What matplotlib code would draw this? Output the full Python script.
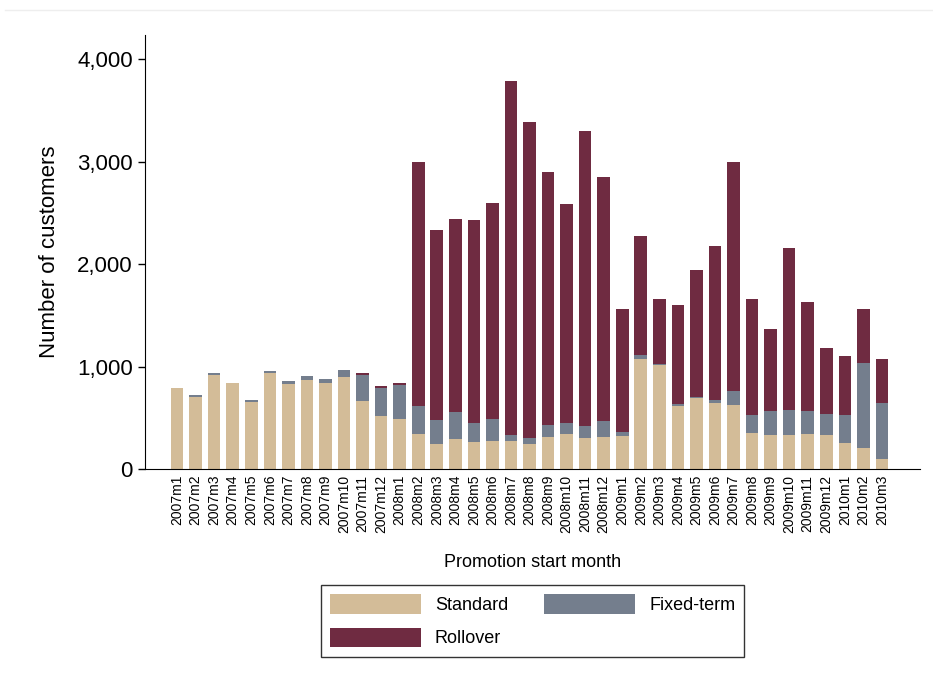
import matplotlib
matplotlib.use("Agg")
import matplotlib.pyplot as plt
from matplotlib.ticker import FuncFormatter
from matplotlib.lines import Line2D

plt.rcParams['font.family'] = ['Liberation Sans', 'DejaVu Sans']

# months on the x axis
months = ['2007m1', '2007m2', '2007m3', '2007m4', '2007m5', '2007m6', '2007m7', '2007m8',
          '2007m9', '2007m10', '2007m11', '2007m12', '2008m1', '2008m2', '2008m3', '2008m4',
          '2008m5', '2008m6', '2008m7', '2008m8', '2008m9', '2008m10', '2008m11', '2008m12',
          '2009m1', '2009m2', '2009m3', '2009m4', '2009m5', '2009m6', '2009m7', '2009m8',
          '2009m9', '2009m10', '2009m11', '2009m12', '2010m1', '2010m2', '2010m3']

# customers per product (stacked: standard, fixed-term, rollover)
standard = [790, 705, 920, 842, 660, 934, 832, 871, 842, 898, 666, 517, 491,
            341, 244, 293, 270, 280, 280, 244, 312, 341, 309, 319,
            322, 1073, 1012, 615, 690, 647, 624, 354, 332, 335, 345, 329, 257, 205, 100]
fixed = [0, 22, 14, 0, 16, 25, 27, 39, 39, 68, 254, 276, 331,
         274, 234, 266, 176, 205, 52, 65, 124, 108, 114, 149,
         42, 39, 12, 19, 19, 26, 134, 170, 234, 244, 221, 208, 267, 826, 544]
rollover = [0, 0, 0, 0, 0, 0, 0, 0, 0, 0, 17, 14, 17,
            2385, 1851, 1883, 1980, 2110, 3456, 3079, 2462, 2136, 2878, 2378,
            1194, 1158, 638, 966, 1236, 1503, 2234, 1138, 806, 1580, 1060, 643, 582, 533, 426]

c_std = '#D3BC98'
c_fix = '#747E8D'
c_rol = '#6F2B41'

fig = plt.figure(figsize=(9.33, 6.86), dpi=100)
ax = fig.add_axes([0.155, 0.316, 0.831, 0.633])

# faint outline line at the top of the graph region
fig.add_artist(Line2D([0.005, 1.0], [0.985, 0.985], transform=fig.transFigure,
                      color='#EEEEEE', lw=1))

x = list(range(len(months)))
w = 0.68
bottom2 = [s + f for s, f in zip(standard, fixed)]
b1 = ax.bar(x, standard, w, color=c_std, label='Standard')
b2 = ax.bar(x, fixed, w, bottom=standard, color=c_fix, label='Fixed-term')
b3 = ax.bar(x, rollover, w, bottom=bottom2, color=c_rol, label='Rollover')

ax.set_xlim(-1.75, len(months) - 1 + 2.05)
ax.set_ylim(0, 4234)
ax.set_yticks([0, 1000, 2000, 3000, 4000])
ax.yaxis.set_major_formatter(FuncFormatter(lambda v, p: f'{int(v):,}'))
ax.tick_params(axis='y', labelsize=16, length=5, width=1)
ax.set_xticks(x)
ax.set_xticklabels(months, rotation=90, fontsize=10)
ax.tick_params(axis='x', length=0, pad=4)

for s in ['top', 'right']:
    ax.spines[s].set_visible(False)

ax.set_ylabel('Number of customers', fontsize=16, labelpad=12)
ax.set_xlabel('Promotion start month', fontsize=13, labelpad=15)

leg = fig.legend(handles=[b1, b3, b2], labels=['Standard', 'Rollover', 'Fixed-term'],
                 ncol=2, loc='center', bbox_to_anchor=(0.571, 0.095), fontsize=13,
                 frameon=True, fancybox=False, edgecolor='black', handlelength=5,
                 handleheight=1.3, columnspacing=2.0, borderpad=0.5, labelspacing=0.75)
leg.get_frame().set_linewidth(1)

fig.savefig('out.png', dpi=100)
